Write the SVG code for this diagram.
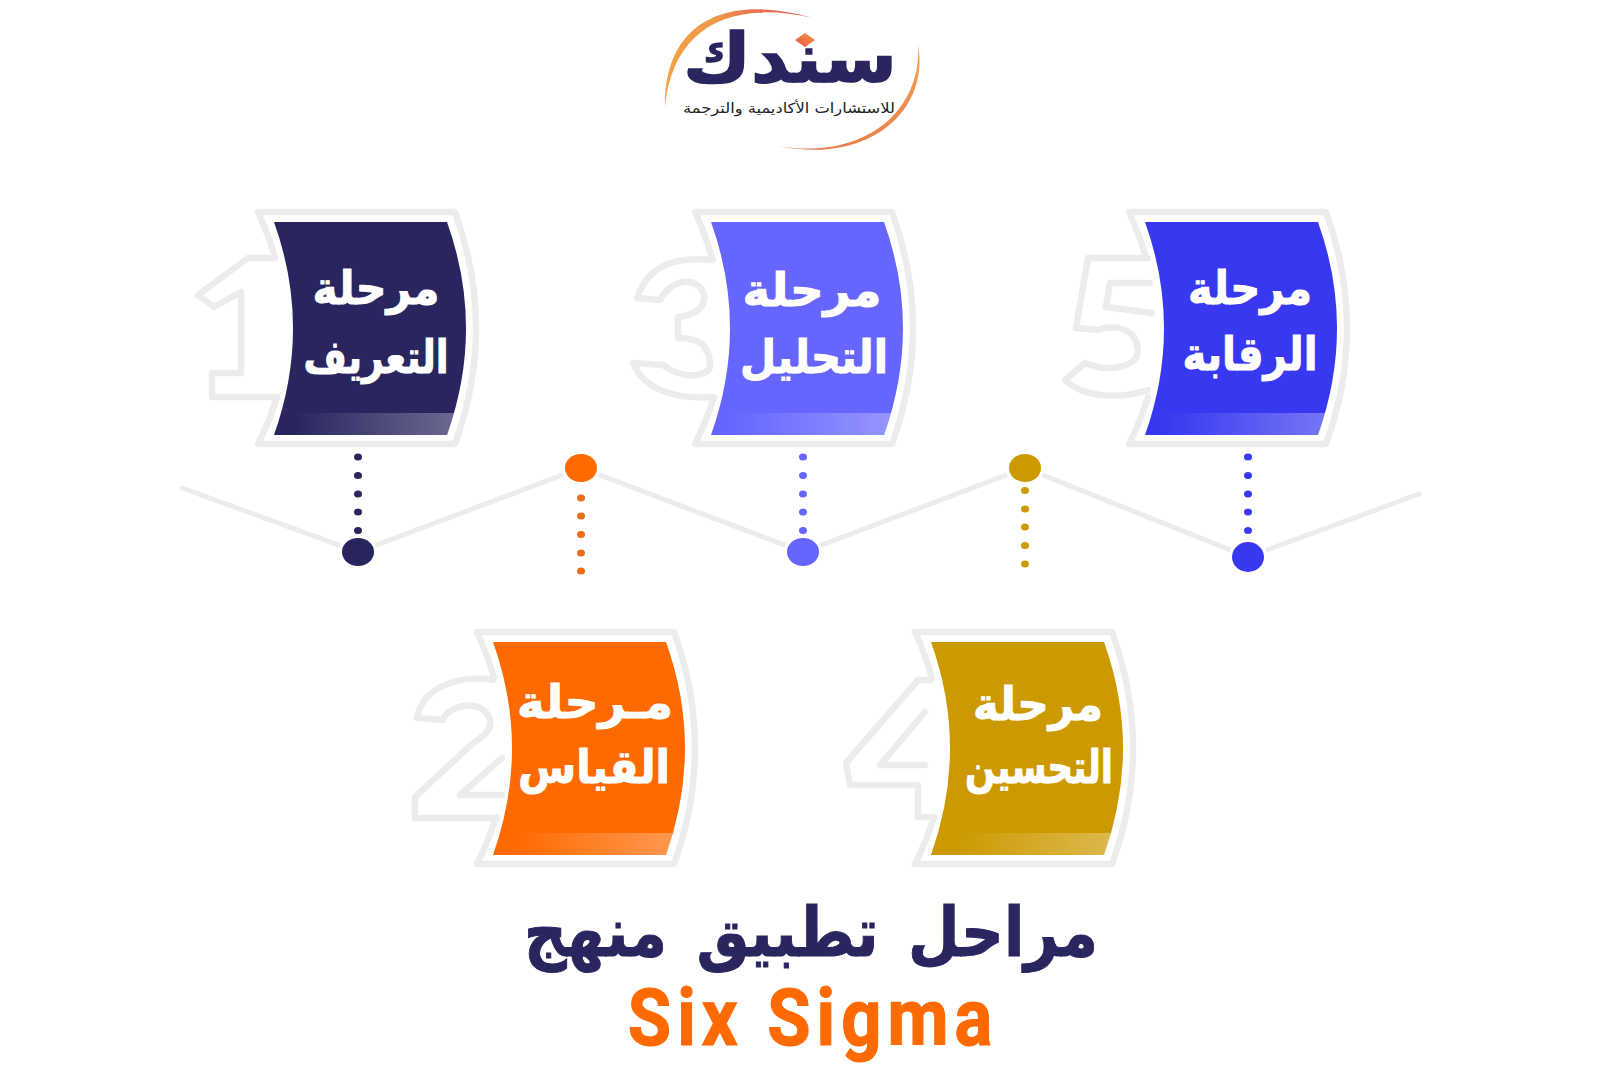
<svg xmlns="http://www.w3.org/2000/svg" width="1600" height="1067" viewBox="0 0 1600 1067">
<style>
.s{fill:none;stroke:#ececec;stroke-width:6.5;stroke-linejoin:round;stroke-linecap:round}
.ar{font-family:"DejaVu Sans",sans-serif;font-weight:700;fill:#fff;stroke:#fff;stroke-width:1;text-anchor:middle;font-size:46px}
.l{fill:none;stroke:#ececec;stroke-width:5;stroke-linecap:round}
</style>
<defs>
<linearGradient id="band" gradientUnits="userSpaceOnUse" x1="295" y1="0" x2="450" y2="0"><stop offset="0" stop-color="#fff" stop-opacity="0"/><stop offset="1" stop-color="#fff" stop-opacity=".3"/></linearGradient>
<linearGradient id="a1" x1="0" y1="1" x2="1" y2="0"><stop offset="0" stop-color="#f2a744"/><stop offset=".6" stop-color="#f09a48"/><stop offset="1" stop-color="#e0505a"/></linearGradient>
<linearGradient id="a2" x1="1" y1="0" x2="0" y2="1"><stop offset="0" stop-color="#f0a050"/><stop offset="1" stop-color="#e8704a"/></linearGradient>
<linearGradient id="dm" x1="0" y1="1" x2="1" y2="0"><stop offset="0" stop-color="#e8504a"/><stop offset="1" stop-color="#f59a40"/></linearGradient>
<path id="frame" d="M275 258Q269 236 258 212H455Q497 328 455 444H258Q270 420 277 397"/>
<path id="panel" d="M274 222H447Q485 328 447 435H274Q312 328 274 222Z"/>
<path id="bandp" d="M274 435Q282 424 287 413H454Q451 424 447 435Z"/>
</defs>

<g id="logo">
<path d="M813 18C722 -8 664 25 665 107C672 32 725 -2 813 18Z" fill="url(#a1)"/>
<path d="M918 45C930 110 870 165 778 146C868 161 922 108 918 45Z" fill="url(#a2)"/>
<text x="790" y="82" font-family="DejaVu Sans,sans-serif" font-weight="700" font-size="68" fill="#29265f" stroke="#29265f" stroke-width="1.5" text-anchor="middle" textLength="214" lengthAdjust="spacingAndGlyphs">سندك</text>
<path d="M795 40L805 33L815 40L805 47Z" fill="url(#dm)"/>
<text x="789" y="113" font-family="DejaVu Sans,sans-serif" font-size="14" fill="#222" text-anchor="middle" textLength="212" lengthAdjust="spacingAndGlyphs">للاستشارات الأكاديمية والترجمة</text>
</g>

<g id="connectors">
<path class="l" d="M182 488L358 552L581 468L803 552L1025 468L1248 557L1419 494"/>
<circle cx="358" cy="552" r="19" fill="#fff"/><circle cx="581" cy="468" r="19" fill="#fff"/><circle cx="803" cy="552" r="19" fill="#fff"/><circle cx="1025" cy="468" r="19" fill="#fff"/><circle cx="1248" cy="557" r="19" fill="#fff"/>
<g fill="#29265f"><ellipse cx="358" cy="457" rx="4" ry="3.5"/><ellipse cx="358" cy="475.5" rx="4" ry="3.5"/><ellipse cx="358" cy="494" rx="4" ry="3.5"/><ellipse cx="358" cy="512" rx="4" ry="3.5"/><ellipse cx="358" cy="530.500" rx="4" ry="3.5"/><ellipse cx="358" cy="552" rx="16" ry="14"/></g>
<g fill="#f06c14"><ellipse cx="581" cy="498" rx="4" ry="3.5"/><ellipse cx="581" cy="516" rx="4" ry="3.5"/><ellipse cx="581" cy="534.500" rx="4" ry="3.5"/><ellipse cx="581" cy="553" rx="4" ry="3.5"/><ellipse cx="581" cy="571" rx="4" ry="3.5"/><ellipse cx="581" cy="468" rx="16" ry="14" fill="#ff6a00"/></g>
<g fill="#6666ff"><ellipse cx="803" cy="457" rx="4" ry="3.5"/><ellipse cx="803" cy="475.5" rx="4" ry="3.5"/><ellipse cx="803" cy="494" rx="4" ry="3.5"/><ellipse cx="803" cy="512" rx="4" ry="3.5"/><ellipse cx="803" cy="530.500" rx="4" ry="3.5"/><ellipse cx="803" cy="552" rx="16" ry="14"/></g>
<g fill="#cc9900"><ellipse cx="1025" cy="490.500" rx="4" ry="3.5"/><ellipse cx="1025" cy="509" rx="4" ry="3.5"/><ellipse cx="1025" cy="527" rx="4" ry="3.5"/><ellipse cx="1025" cy="545.500" rx="4" ry="3.5"/><ellipse cx="1025" cy="564" rx="4" ry="3.5"/><ellipse cx="1025" cy="468" rx="16" ry="14"/></g>
<g fill="#3838f0"><ellipse cx="1248" cy="457" rx="4" ry="3.5"/><ellipse cx="1248" cy="475.5" rx="4" ry="3.5"/><ellipse cx="1248" cy="494" rx="4" ry="3.5"/><ellipse cx="1248" cy="512" rx="4" ry="3.5"/><ellipse cx="1248" cy="530.500" rx="4" ry="3.5"/><ellipse cx="1248" cy="557" rx="16" ry="15"/></g>
</g>

<g id="node-1">
<path class="s" d="M275 258H248L198 295L214 307L241 292V373H212V397H277"/>
<use href="#frame" class="s"/>
<use href="#panel" fill="#29265f"/><use href="#bandp" fill="url(#band)"/>
<text class="ar" x="376" y="304" textLength="127" lengthAdjust="spacingAndGlyphs">مرحلة</text>
<text class="ar" x="376" y="373" textLength="145" lengthAdjust="spacingAndGlyphs">التعريف</text>
</g>

<g id="node-2">
<path class="s" d="M493 680C467 675 423 683 417 718L443 720C447 705 483 697 490 720C492 730 483 737 473 743L415 797V818H497M502 758L460 795H502"/>
<g transform="translate(219 420)"><use href="#frame" class="s"/><use href="#panel" fill="#ff6a00"/><use href="#bandp" fill="url(#band)"/></g>
<text class="ar" x="595" y="718" textLength="156" lengthAdjust="spacingAndGlyphs">مـرحلة</text>
<text class="ar" x="594" y="783" textLength="152" lengthAdjust="spacingAndGlyphs">القياس</text>
</g>

<g id="node-3">
<path class="s" d="M713 260C683 257 650 260 637 298L660 300C667 287 680 280 690 282C710 287 712 313 678 317V338C697 338 710 343 710 367C707 377 683 380 663 365L633 363C643 387 670 400 713 397"/>
<g transform="translate(437 0)"><use href="#frame" class="s"/><use href="#panel" fill="#6666ff"/><use href="#bandp" fill="url(#band)"/></g>
<text class="ar" x="812" y="306" textLength="139" lengthAdjust="spacingAndGlyphs">مرحلة</text>
<text class="ar" x="814" y="373" textLength="148" lengthAdjust="spacingAndGlyphs">التحليل</text>
</g>

<g id="node-4">
<path class="s" d="M930 680H918L846 763L850 785H918V817H934M925 712L880 765H925"/>
<g transform="translate(657 420)"><use href="#frame" class="s"/><use href="#panel" fill="#cc9900"/><use href="#bandp" fill="url(#band)"/></g>
<text class="ar" x="1038" y="720" textLength="130" lengthAdjust="spacingAndGlyphs">مرحلة</text>
<text class="ar" x="1039" y="783" textLength="148" lengthAdjust="spacingAndGlyphs">التحسين</text>
</g>

<g id="node-5">
<path class="s" d="M1148 258H1088L1076 328L1097 330C1117 323 1137 330 1138 350C1138 367 1110 373 1085 363L1065 380C1083 397 1117 400 1148 390M1150 283H1110L1106 307L1152 313"/>
<g transform="translate(871 0)"><use href="#frame" class="s"/><use href="#panel" fill="#3838f0"/><use href="#bandp" fill="url(#band)"/></g>
<text class="ar" x="1250" y="304" textLength="124" lengthAdjust="spacingAndGlyphs">مرحلة</text>
<text class="ar" x="1250" y="370" textLength="135" lengthAdjust="spacingAndGlyphs">الرقابة</text>
</g>

<g id="title">
<text x="811" y="956" font-family="DejaVu Sans,sans-serif" font-weight="700" font-size="68" fill="#29265f" stroke="#29265f" stroke-width="1" word-spacing="10" text-anchor="middle" textLength="574" lengthAdjust="spacingAndGlyphs">مراحل تطبيق منهج</text>
<text transform="translate(810 1045) scale(.88 1)" font-family="Roboto,sans-serif" font-weight="700" font-size="80" fill="#ff6a00" stroke="#ff6a00" stroke-width="1.2" text-anchor="middle" textLength="414" lengthAdjust="spacing">Six Sigma</text>
</g>
</svg>
